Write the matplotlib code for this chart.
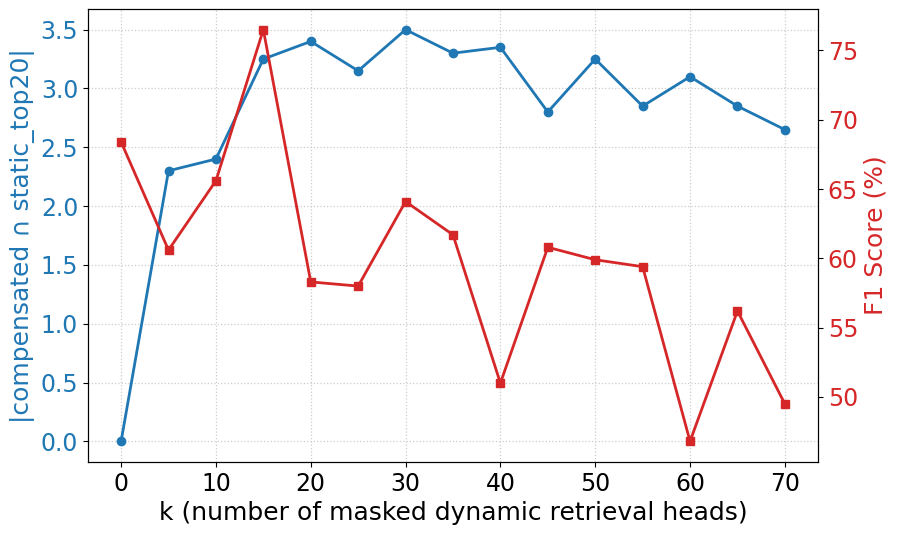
import matplotlib

matplotlib.use("Agg")
import matplotlib.pyplot as plt

k = [0, 5, 10, 15, 20, 25, 30, 35, 40, 45, 50, 55, 60, 65, 70]
overlap = [0.0, 2.30, 2.40, 3.25, 3.40, 3.15, 3.50, 3.30, 3.35, 2.80, 3.25, 2.85, 3.10, 2.85, 2.65]
f1 = [68.4, 60.6, 65.6, 76.5, 58.3, 58.0, 64.1, 61.7, 51.0, 60.8, 59.9, 59.4, 46.8, 56.2, 49.5]

BLUE = "tab:blue"
RED = "tab:red"

fig = plt.figure(figsize=(8.97, 5.34), dpi=100)
ax1 = fig.add_axes([0.098, 0.135, 0.814, 0.848])
ax1.plot(k, overlap, "-o", color=BLUE, lw=2, ms=6)
ax1.set_xlabel("k (number of masked dynamic retrieval heads)", fontsize=18)
ax1.set_ylabel("|compensated ∩ static_top20|", color=BLUE, fontsize=18)
ax1.tick_params(axis="y", labelcolor=BLUE, labelsize=17)
ax1.tick_params(axis="x", labelsize=17)
ax1.set_xticks(range(0, 71, 10))
ax1.grid(True, linestyle=":", color="0.8", linewidth=0.9)

ax2 = ax1.twinx()
ax2.plot(k, f1, "-s", color=RED, lw=2, ms=6)
ax2.set_ylabel("F1 Score (%)", color=RED, fontsize=18)
ax2.tick_params(axis="y", labelcolor=RED, labelsize=17)

fig.savefig("out.png", dpi=100)
